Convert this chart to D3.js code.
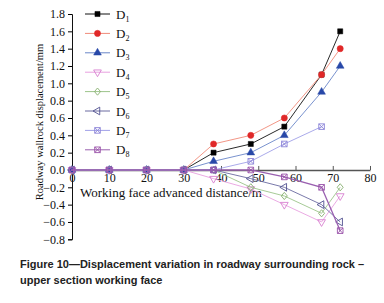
<!DOCTYPE html>
<html>
<head>
<meta charset="utf-8">
<script src="https://cdn.jsdelivr.net/npm/d3@7"></script>
<style>
body { margin:0; background:#fff; }
svg { display:block; }
.cap { font-family:"Liberation Sans", Arial, sans-serif; font-size:11px; font-weight:bold; fill:#222; }
</style>
</head>
<body>
<script>
var w = 384, h = 303;

// data
var distance = [0, 10, 20, 30, 38, 48, 57, 67, 72];
var names = ["D1","D2","D3","D4","D5","D6","D7","D8"];
var D1 = [0, 0, 0, 0, 0.2, 0.3, 0.5, 1.1, 1.6];
var D2 = [0, 0, 0, 0, 0.3, 0.4, 0.6, 1.1, 1.4];
var D3 = [0, 0, 0, 0, 0.1, 0.2, 0.4, 0.9, 1.2];
var D4 = [0, 0, 0, 0, -0.1, -0.22, -0.4, -0.6, -0.3];
var D5 = [0, 0, 0, 0, 0, -0.2, -0.3, -0.5, -0.2];
var D6 = [0, 0, 0, 0, 0, -0.1, -0.2, -0.4, -0.6];
var D7 = [0, 0, 0, 0, 0, 0.1, 0.3, 0.5, null];
var D8 = [0, 0, 0, 0, 0, 0, -0.08, -0.2, -0.7];
var xTicks = [0, 10, 20, 30, 40, 50, 60, 70, 80];
var yTicks = [-0.8, -0.6, -0.4, -0.2, 0, 0.2, 0.4, 0.6, 0.8, 1.0, 1.2, 1.4, 1.6, 1.8];

var series = [D1, D2, D3, D4, D5, D6, D7, D8];
var lineCol = ["#111", "#f08a78", "#6a86c8", "#e8a0e0", "#9cc48a", "#6a6aa0", "#a0a0e8", "#9a60b0"];
var markCol = ["#000", "#e02828", "#2848a8", "#d880d0", "#88b070", "#505090", "#8c84d8", "#9850a8"];
var shapes = ["square", "circle", "tri", "down", "diamond", "left", "xsq", "xsq"];
var filled = [true, true, true, false, false, false, false, false];

var x = d3.scaleLinear().domain([0, 80]).range([72, 370]);
var y = d3.scaleLinear().domain([-0.8, 1.8]).range([239.3, 14]);

var svg = d3.select("body").append("svg")
	.attr("width", w)
	.attr("height", h)

function marker(g, s, cx, cy, i) {
	var p;
	if (s == "square") p = d3.symbol(d3.symbolSquare, 26)();
	else if (s == "circle") p = d3.symbol(d3.symbolCircle, 30)();
	else if (s == "tri") p = d3.symbol(d3.symbolTriangle, 26)();
	else if (s == "down") p = d3.symbol(d3.symbolTriangle, 26)();
	else if (s == "diamond") p = "M0,-3.6L3,0L0,3.6L-3,0Z";
	else if (s == "left") p = d3.symbol(d3.symbolTriangle, 26)();
	else p = "M-2.8,-2.8H2.8V2.8H-2.8ZM-2.8,-2.8L2.8,2.8M2.8,-2.8L-2.8,2.8";
	var rot = s == "down" ? 180 : (s == "left" ? -90 : 0);
	g.append("path")
		.attr("d", p)
		.attr("transform", "translate(" + cx + "," + cy + ") rotate(" + rot + ")")
		.style("fill", filled[i] ? markCol[i] : "#fff")
		.style("fill-opacity", filled[i] ? 1 : 0)
		.style("stroke", markCol[i])
		.style("stroke-width", filled[i] ? 0.5 : 0.9)
}

// y axis
var yAx = svg.append("g")
	.attr("transform", "translate(72,0)")
	.call(d3.axisLeft(y).tickValues(yTicks).tickSize(4).tickPadding(3)
		.tickFormat(function(d) { return d == 0 ? "0.0" : d3.format(".1f")(d); }))
yAx.attr("font-family", "Liberation Serif").attr("font-size", 12)
yAx.select(".domain").style("stroke", "#111")
yAx.selectAll("text").style("fill", "#111")

// x axis on y=0
var xAx = svg.append("g")
	.attr("transform", "translate(0," + y(0) + ")")
	.call(d3.axisBottom(x).tickValues(xTicks).tickSize(0).tickPadding(4))
xAx.attr("font-family", "Liberation Serif").attr("font-size", 12)
xAx.select(".domain").style("stroke", "#555").style("stroke-width", 1.6)
xAx.selectAll(".tick line").attr("y2", -4).style("stroke", "#555")
xAx.selectAll("text").style("fill", "#111")

// titles
svg.append("text")
	.attr("x", 80).attr("y", 197)
	.style("font-family", "Liberation Serif, serif").style("font-size", "13px").style("fill", "#111")
	.text("Working face advanced distance/m")
svg.append("text")
	.attr("transform", "translate(43,122) rotate(-90)")
	.attr("text-anchor", "middle")
	.style("font-family", "Liberation Serif, serif").style("font-size", "10.5px").style("fill", "#111")
	.text("Roadway wallrock displacement/mm")

// lines and markers
var line = d3.line()
	.defined(function(d) { return d[1] != null; })
	.x(function(d) { return x(d[0]); })
	.y(function(d) { return y(d[1]); });

series.forEach(function(s, i) {
	var pts = distance.map(function(d, j) { return [d, s[j]]; });
	var g = svg.append("g");
	g.append("path")
		.attr("d", line(pts))
		.style("fill", "none")
		.style("stroke", lineCol[i])
		.style("stroke-width", i == 7 ? 1.3 : 0.9)
	pts.forEach(function(p) {
		if (p[1] != null) marker(g, shapes[i], x(p[0]), y(p[1]), i);
	});
});

// legend
var leg = svg.append("g")
names.forEach(function(n, i) {
	var ly = 14 + i * 19.4;
	leg.append("line")
		.attr("x1", 85).attr("x2", 110).attr("y1", ly).attr("y2", ly)
		.style("stroke", lineCol[i]).style("stroke-width", 1)
	marker(leg, shapes[i], 97.5, ly, i);
	var t = leg.append("text")
		.attr("x", 116).attr("y", ly + 4.5)
		.style("font-family", "Liberation Serif, serif").style("font-size", "13px").style("fill", "#111")
	t.append("tspan").text(n.charAt(0))
	t.append("tspan").attr("dy", 3).style("font-size", "8px").text(n.slice(1))
});

// caption
svg.append("text").attr("class", "cap").attr("x", 20).attr("y", 268)
	.text("Figure 10\u2014Displacement variation in roadway surrounding rock \u2013")
svg.append("text").attr("class", "cap").attr("x", 20).attr("y", 284)
	.text("upper section working face")
</script>
</body>
</html>
